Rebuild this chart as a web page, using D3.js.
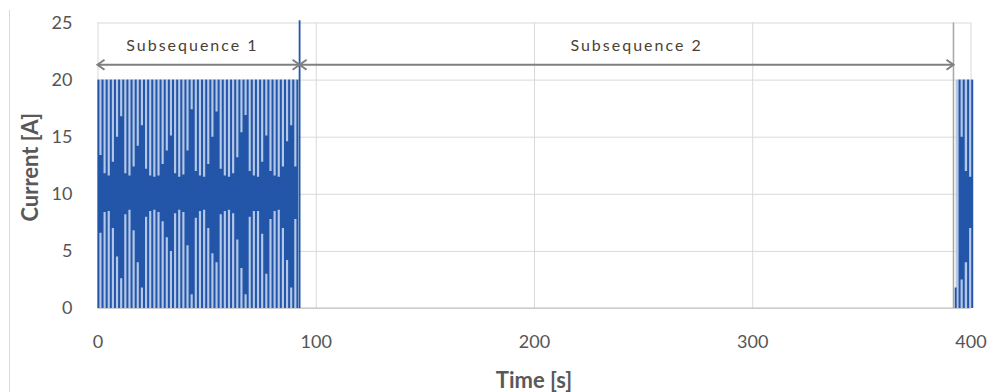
<!DOCTYPE html>
<html>
<head>
<meta charset="utf-8">
<script src="https://cdn.jsdelivr.net/npm/d3@7"></script>
<style>
  body { margin: 0; background: #fff; }
  svg { display: block; font-family: Lato, "Open Sans", sans-serif; }
</style>
</head>
<body>
<svg id="chart" width="997" height="392"></svg>
<script>
// axis ticks
const timeTicks = [0, 100, 200, 300, 400];
const currentTicks = [0, 5, 10, 15, 20, 25];

// subsequence 1: swing times [s], swing extents [A], edges of the dense middle band [A]
const sub1Time = [0.4, 2.3, 4.2, 6.1, 8.0, 9.9, 11.8, 13.7, 15.6, 17.5, 19.4, 21.3, 23.2, 25.1, 27.0, 28.9, 30.8,
  32.7, 34.6, 36.5, 38.4, 40.3, 42.2, 44.1, 46.0, 47.9, 49.8, 51.7, 53.6, 55.5, 57.4, 59.3, 61.2, 63.1, 65.0,
  66.9, 68.8, 70.7, 72.6, 74.5, 76.4, 78.3, 80.2, 82.1, 84.0, 85.9, 87.8, 89.7, 91.6];
const sub1High = [20, 20, 20, 20, 20, 20, 20, 20, 20, 20, 20, 20, 20, 20, 20, 20, 20, 20, 20, 20, 20, 20, 20, 20, 20,
  20, 20, 20, 20, 20, 20, 20, 20, 20, 20, 20, 20, 20, 20, 20, 20, 20, 20, 20, 20, 20, 20, 20, 20];
const sub1Low = [0, 0, 0, 0, 0, 0, 0, 0, 0, 0, 0, 0, 0, 0, 0, 0, 0, 0, 0, 0, 0, 0, 0, 0, 0,
  0, 0, 0, 0, 0, 0, 0, 0, 0, 0, 0, 0, 0, 0, 0, 0, 0, 0, 0, 0, 0, 0, 0, 0];
const sub1BandHigh = [13.4, 11.8, 11.6, 12.8, 15.0, 16.8, 11.8, 11.6, 12.4, 14.2, 16.0, 12.2, 11.6, 11.5, 11.6, 12.6,
  13.8, 15.1, 11.8, 11.5, 11.7, 13.8, 17.4, 12.0, 11.6, 11.5, 12.6, 15.0, 17.2, 12.2, 11.6, 11.5, 11.8, 13.2, 15.4,
  16.9, 12.0, 11.6, 11.5, 12.8, 15.1, 12.0, 11.6, 11.5, 12.4, 14.6, 16.0, 12.4, 12.0];
const sub1BandLow = [6.6, 8.4, 8.5, 7.0, 4.5, 2.6, 8.2, 8.6, 6.8, 4.0, 1.8, 8.0, 8.5, 8.6, 8.4, 7.6, 6.2, 5.0, 8.3,
  8.6, 8.4, 5.5, 1.2, 7.9, 8.5, 8.6, 7.0, 4.8, 4.0, 8.2, 8.5, 8.6, 8.3, 6.0, 3.5, 1.2, 8.0, 8.5, 8.5, 6.5, 3.0,
  7.8, 8.5, 8.6, 7.0, 4.2, 1.8, 7.8, 8.0];

// start of the next run after subsequence 2
const sub2Time = [393.2, 395.0, 396.9, 398.9, 400.8];
const sub2High = [1.8, 20, 20, 20, 20];
const sub2Low = [0, 0, 0, 0, 0];
const sub2BandHigh = [0, 15.0, 12.0, 11.5, 9.5];
const sub2BandLow = [0, 2.5, 4.0, 7.0, 7.0];

// boundaries between subsequences
const boundaryTime = [92.6, 392.2];
const boundaryPeak = [25.2, 25];

// annotation arrows
const subsequenceNames = ["Subsequence 1", "Subsequence 2"];
const subsequenceStart = [0, 92.6];
const subsequenceEnd = [92.6, 392.2];
const labelTime = [43.5, 247];
const arrowLevel = 21.3;
const labelLevel = 23.0;

const dark = "#2356a8";
const light = "#b4c7e7";

const svg = d3.select("#chart");
const margin = { top: 22.5, right: 26.5, bottom: 84, left: 97.5 };
const width = 997 - margin.left - margin.right;
const height = 392 - margin.top - margin.bottom;

const x = d3.scaleLinear().domain([0, 400]).range([margin.left, margin.left + width]);
const y = d3.scaleLinear().domain([0, 25]).range([margin.top + height, margin.top]);

// faint frame line at left
svg.append("line")
  .attr("x1", 9.5).attr("x2", 9.5).attr("y1", 10).attr("y2", 392)
  .attr("stroke", "#d9d9d9").attr("stroke-width", 1);

// gridlines + tick labels
const yAxis = svg.append("g")
  .attr("transform", "translate(" + margin.left + ",0)")
  .call(d3.axisLeft(y).tickValues(currentTicks).tickSize(-width).tickPadding(25));
yAxis.select(".domain").remove();
yAxis.selectAll("line").attr("stroke", "#d9d9d9");
yAxis.selectAll("text").attr("fill", "#555").style("font-size", "18px").style("font-family", "Lato");

const xAxis = svg.append("g")
  .attr("transform", "translate(0," + (margin.top + height) + ")")
  .call(d3.axisBottom(x).tickValues(timeTicks).tickSize(-height).tickPadding(27));
xAxis.select(".domain").remove();
xAxis.selectAll("line").attr("stroke", "#d9d9d9");
xAxis.selectAll("text").attr("fill", "#555").style("font-size", "18px").style("font-family", "Lato");

// axis base line
svg.append("line")
  .attr("x1", x(0)).attr("x2", x(400))
  .attr("y1", y(0)).attr("y2", y(0))
  .attr("stroke", "#bfbfbf");

function drawRun(time, high, low, bandHigh, bandLow) {
  const rows = time.map((t, i) => ({ t: t, high: high[i], low: low[i], bh: bandHigh[i], bl: bandLow[i] }));
  const top = d3.max(high), bottom = d3.min(low);

  // light fill from the overlapping swings
  svg.append("path")
    .datum(rows)
    .attr("fill", light)
    .attr("d", d3.area().x(d => x(d.t)).y0(y(bottom)).y1(y(top)));

  // dense middle band
  svg.append("path")
    .datum(rows)
    .attr("fill", dark)
    .attr("d", d3.area().curve(d3.curveStepAfter).x(d => x(d.t)).y0(d => y(d.bl)).y1(d => y(d.bh)));

  // full swings
  svg.append("g").selectAll("line")
    .data(rows)
    .enter()
    .append("line")
    .attr("x1", d => x(d.t)).attr("x2", d => x(d.t))
    .attr("y1", d => y(d.low)).attr("y2", d => y(d.high))
    .attr("stroke", dark)
    .attr("stroke-width", 2);
}

drawRun(sub1Time, sub1High, sub1Low, sub1BandHigh, sub1BandLow);
drawRun(sub2Time, sub2High, sub2Low, sub2BandHigh, sub2BandLow);

// boundaries
svg.append("g").selectAll("line")
  .data(boundaryTime)
  .enter()
  .append("line")
  .attr("x1", d => x(d)).attr("x2", d => x(d))
  .attr("y1", y(0)).attr("y2", (d, i) => y(boundaryPeak[i]))
  .attr("stroke", (d, i) => i === 0 ? dark : "#a6a6a6")
  .attr("stroke-width", (d, i) => i === 0 ? 1.8 : 1.5);

// arrows with labels
const ay = y(arrowLevel);
subsequenceNames.forEach((name, i) => {
  const x0 = x(subsequenceStart[i]), x1 = x(subsequenceEnd[i]);
  const g = svg.append("g").attr("stroke", "#7f7f7f").attr("fill", "none").attr("stroke-width", 2);
  g.append("line").attr("x1", x0).attr("x2", x1).attr("y1", ay).attr("y2", ay);
  g.append("path").attr("d", "M" + (x0 + 7) + "," + (ay - 5) + "L" + x0 + "," + ay + "L" + (x0 + 7) + "," + (ay + 5));
  g.append("path").attr("d", "M" + (x1 - 7) + "," + (ay - 5) + "L" + x1 + "," + ay + "L" + (x1 - 7) + "," + (ay + 5));

  svg.append("text")
    .attr("x", x(labelTime[i]))
    .attr("y", y(labelLevel))
    .attr("dy", "0.35em")
    .attr("text-anchor", "middle")
    .attr("fill", "#4a3f36")
    .style("font-size", "16px")
    .style("letter-spacing", "2px")
    .text(name);
});

// axis titles
svg.append("text")
  .attr("transform", "translate(30," + (margin.top + height / 2 + 2) + ") rotate(-90)")
  .attr("text-anchor", "middle")
  .attr("dy", "0.35em")
  .attr("fill", "#595959")
  .style("font-size", "22px")
  .style("font-weight", "bold")
  .text("Current [A]");

svg.append("text")
  .attr("x", x(200))
  .attr("y", 380)
  .attr("dy", "0.35em")
  .attr("text-anchor", "middle")
  .attr("fill", "#595959")
  .style("font-size", "22px")
  .style("font-weight", "bold")
  .text("Time [s]");
</script>
</body>
</html>
